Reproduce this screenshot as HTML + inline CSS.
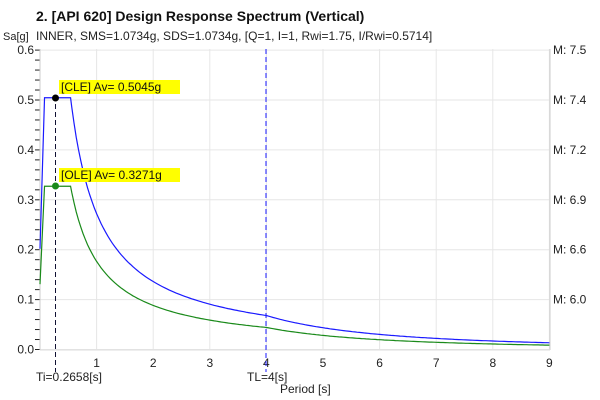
<!DOCTYPE html>
<html><head><meta charset="utf-8"><style>
body{margin:0;background:#fff;}
svg{display:block;font-family:"Liberation Sans",Arial,sans-serif;}
</style></head><body>
<svg id="s" width="600" height="400" viewBox="0 0 600 400" xmlns="http://www.w3.org/2000/svg">
<text x="36" y="21" font-size="14" font-weight="bold" fill="#111">2. [API 620] Design Response Spectrum (Vertical)</text>
<text x="36" y="40" font-size="12" fill="#222">INNER, SMS=1.0734g, SDS=1.0734g, [Q=1, I=1, Rwi=1.75, I/Rwi=0.5714]</text>
<text x="3" y="40" font-size="11" fill="#222">Sa[g]</text>
<g id="grid" stroke="#e6e6e6" stroke-width="1"></g>
<g id="ticks" stroke="#222" stroke-width="1"></g>
<g id="lbl" font-size="12" fill="#222"></g>
<line x1="40" y1="49" x2="40" y2="350" stroke="#ccc"/>
<line x1="550" y1="49" x2="550" y2="350" stroke="#ccc"/>
<line x1="40" y1="350" x2="550" y2="350" stroke="#ddd"/>
<path id="cle" fill="none" stroke="#1a1aff" stroke-width="1.2"/>
<path id="ole" fill="none" stroke="#1a8a1a" stroke-width="1.2"/>
<line x1="55.5" y1="96" x2="55.5" y2="372" stroke="#113" stroke-width="1" stroke-dasharray="5,3"/>
<line x1="266" y1="49" x2="266" y2="372" stroke="#1a1aff" stroke-width="1" stroke-dasharray="5,3"/>
<rect x="59" y="80" width="121" height="14" fill="#ffff00"/>
<text x="61" y="91" font-size="12" fill="#111">[CLE] Av= 0.5045g</text>
<rect x="59" y="168" width="121" height="14" fill="#ffff00"/>
<text x="61" y="179" font-size="12" fill="#111">[OLE] Av= 0.3271g</text>
<circle cx="55.5" cy="98" r="3.5" fill="#000"/>
<circle cx="55.5" cy="186" r="3.5" fill="#1a8a1a"/>
<text x="36" y="381" font-size="12" fill="#222">Ti=0.2658[s]</text>
<text x="247" y="381" font-size="12" fill="#222">TL=4[s]</text>
<text x="280" y="393" font-size="12" fill="#222">Period [s]</text>
</svg>
<script>
var X=function(t){return 40+t*56.6;},Y=function(v){return 349.5-v*499;};
var g=document.getElementById('grid'),tk=document.getElementById('ticks'),lb=document.getElementById('lbl');
var NS='http://www.w3.org/2000/svg';
function el(p,n,a,txt){var e=document.createElementNS(NS,n);for(var k in a)e.setAttribute(k,a[k]);if(txt)e.textContent=txt;p.appendChild(e);}
for(var i=0;i<=6;i++){var y=Y(i/10);el(g,'line',{x1:40,x2:550,y1:y,y2:y});el(lb,'text',{x:34,y:y+4,'text-anchor':'end'},(i/10).toFixed(1));}
for(var i=0;i<=30;i++){var y=Y(i*0.02);el(tk,'line',{x1:35,x2:40,y1:y,y2:y});}
for(var i=1;i<=9;i++){var x=X(i);el(g,'line',{x1:x,x2:x,y1:49,y2:350});el(lb,'text',{x:x,y:367,'text-anchor':'middle'},''+i);}
var M=['7.5','7.4','7.2','6.9','6.6','6.0'];
for(var i=0;i<6;i++){el(lb,'text',{x:553,y:Y(0.6-i*0.1)+4},'M: '+M[i]);}
function path(av){var d='M'+X(0)+','+Y(0.4*av)+' L'+X(0.08)+','+Y(av)+' L'+X(0.54)+','+Y(av);
for(var t=0.56;t<=9.001;t+=0.04){var v=t<=4?av*0.54/t:av*0.54*4/(t*t);d+=' L'+X(t).toFixed(1)+','+Y(v).toFixed(1);}return d;}
document.getElementById('cle').setAttribute('d',path(0.5045));
document.getElementById('ole').setAttribute('d',path(0.3271));
</script>
</body></html>
